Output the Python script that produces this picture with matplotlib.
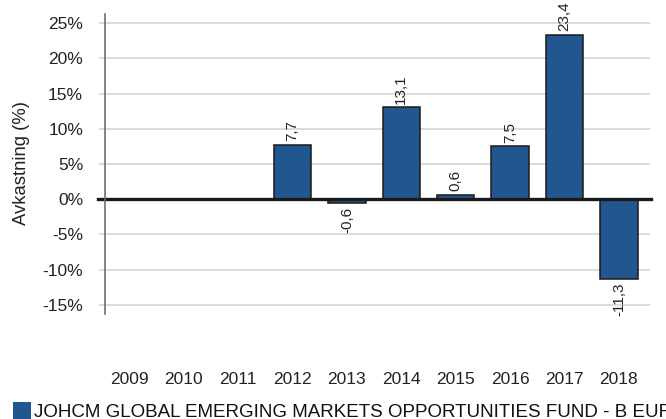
import matplotlib.pyplot as plt
import matplotlib.patches as mpatches
import numpy as np

plt.rcParams['font.family'] = ['Liberation Sans', 'DejaVu Sans']

years = ['2009', '2010', '2011', '2012', '2013', '2014', '2015', '2016', '2017', '2018']
returns = [np.nan, np.nan, np.nan, 7.7, -0.6, 13.1, 0.6, 7.5, 23.4, -11.3]
yticks = [-15, -10, -5, 0, 5, 10, 15, 20, 25]
fund_name = 'JOHCM GLOBAL EMERGING MARKETS OPPORTUNITIES FUND - B EUR'

bar_color = '#22568e'
text_color = '#222222'

fig = plt.figure(figsize=(6.66, 4.19), dpi=100)
ax = fig.add_axes([105 / 666, 105 / 419, 545 / 666, 299.7 / 419])

x = np.arange(len(years))
ax.bar(x, returns, width=0.69, color=bar_color, edgecolor='#1a1a1a', linewidth=1.1, zorder=3)

# rotated value labels above / below the bars
for xi, v in zip(x, returns):
    if np.isnan(v):
        continue
    txt = ('%.1f' % v).replace('.', ',')
    if v >= 0:
        ax.text(xi, v + 0.5, txt, rotation=90, ha='center', va='bottom',
                fontsize=11, color=text_color, clip_on=False)
    else:
        ax.text(xi, v - 0.5, txt, rotation=90, ha='center', va='top',
                fontsize=11, color=text_color, clip_on=False)

ax.set_xlim(-0.447, 9.571)
ax.set_ylim(-16.32, 26.28)
ax.set_yticks(yticks)
ax.set_yticklabels(['%d%%' % t for t in yticks])
ax.set_xticks(x)
ax.set_xticklabels(years)

ax.grid(axis='y', color='#d4d4d4', linewidth=1.2, zorder=0)
ax.axhline(0, color='#1a1a1a', linewidth=2.4, zorder=4, xmin=-0.0134, xmax=1.001, clip_on=False)

for s in ['top', 'right', 'bottom']:
    ax.spines[s].set_visible(False)
ax.spines['left'].set_color('#707070')
ax.spines['left'].set_linewidth(1.2)
ax.spines['left'].set_zorder(5)

ax.tick_params(axis='y', length=4.3, width=1.2, color='#d4d4d4', pad=11.5,
               labelsize=12.5, labelcolor=text_color)
ax.tick_params(axis='x', length=0, pad=42, labelsize=12.5, labelcolor=text_color)
ax.set_ylabel('Avkastning (%)', fontsize=13.3, color=text_color)
ax.yaxis.set_label_coords(-0.1376, 0.503)

# legend at the bottom, runs off the right edge like the original
fig.patches.append(mpatches.Rectangle((13 / 666, 0), 18 / 666, 17 / 419,
                                      transform=fig.transFigure, facecolor=bar_color,
                                      edgecolor='none'))
fig.text(34 / 666, 2.5 / 419, fund_name, fontsize=13.5, color='#111111',
         va='baseline', ha='left')

fig.savefig('out.png', dpi=100)
